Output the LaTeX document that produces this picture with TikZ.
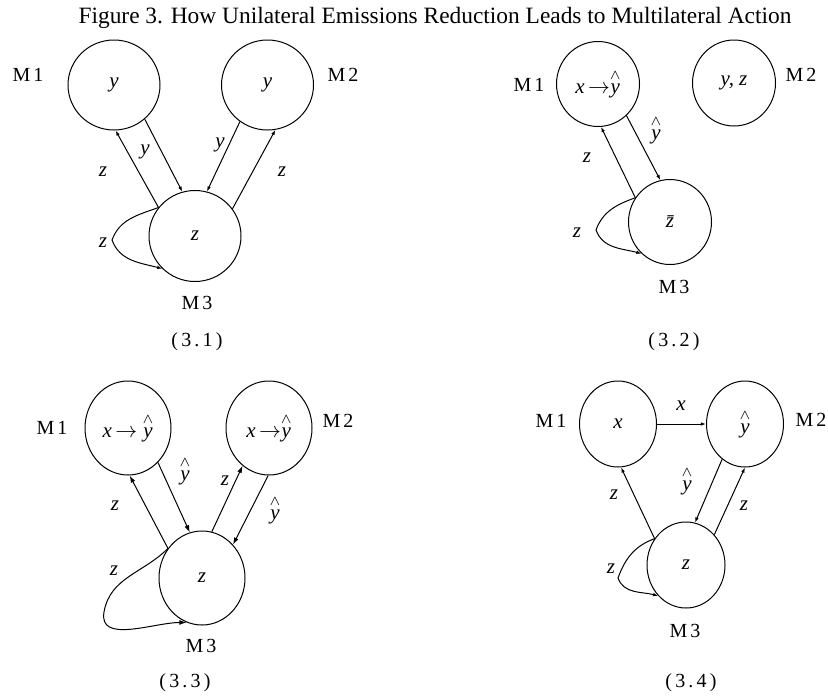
\documentclass[tikz,border=0pt]{standalone}
\usepackage{amsmath}
\usepackage{fontspec}
\setmainfont{Liberation Serif}
\newfontfamily\spaced[LetterSpace=16]{Liberation Serif}
\usetikzlibrary{arrows.meta,shapes.geometric}

\newcommand{\yhat}{$\overset{\scriptstyle\wedge}{\textit{y}}$}
\newcommand{\xto}{\textit{x}\,$\rightarrow$}

\begin{document}
\begin{tikzpicture}[
  x=0.5pt, y=0.5pt, line width=0.5pt,
  title/.style={font=\fontsize{11.7}{14}\selectfont, anchor=base},
  mnode/.style 2 args={ellipse, draw, minimum width=#1, minimum height=#2, inner sep=0pt,
    font=\fontsize{10.5}{12}\selectfont\itshape},
  mlab/.style={font=\fontsize{10}{12}\selectfont\spaced},
  elab/.style={font=\fontsize{10.5}{12}\selectfont\itshape, inner sep=0pt},
  capt/.style={font=\fontsize{10}{12}\selectfont\spaced},
  arr/.style={-{Latex[length=2.6pt,width=1.8pt]}},
  arrb/.style={-{Latex[length=3.6pt,width=2.4pt]}}
]
  \useasboundingbox (0,0) rectangle (828,-696);
  \node[title] (ttl) at (435,-23) {Figure 3. How Unilateral Emissions Reduction Leads to Multilateral Action};

  % (3.1)
  \node[mnode={46pt}{45pt}] (a1) at (114,-85) {y};
  \node[mnode={46pt}{45pt}] (a2) at (267.5,-85) {y};
  \node[mnode={46pt}{45.5pt}] (a3) at (195,-236) {z};
  \node[mlab] (a1l) at (28,-75) {M1};
  \node[mlab] (a2l) at (343,-75) {M2};
  \node[mlab] (a3l) at (197,-303) {M3};
  \node[capt] (a0) at (197,-342) {(3.1)};
  \draw[arr] (a3.142) -- (a1.272);
  \draw[arr] (a1.-48) -- (a3.106);
  \draw[arr] (a2.233) -- (a3.75);
  \draw[arr] (a3.36) -- (a2.280);
  \coordinate (a3t) at (112,-240);
  \draw[arr] (a3.142) to[out=200,in=70] (a3t) to[out=-70,in=165] (a3.225);
  \node[elab] (az1) at (103,-172) {z};
  \node[elab] (ay1) at (145,-152) {y};
  \node[elab] (ay2) at (220,-145) {y};
  \node[elab] (az2) at (282,-172) {z};
  \node[elab] (az3) at (103,-243) {z};

  % (3.2)
  \node[mnode={41.5pt}{42.5pt}] (b1) at (598,-84) {\xto\yhat};
  \node[mnode={41.5pt}{43pt}] (b2) at (734,-83) {y, z};
  \node[mnode={41.5pt}{42.5pt}] (b3) at (670,-222) {\=z};
  \node[mlab] (b1l) at (529,-85) {M1};
  \node[mlab] (b2l) at (801,-75) {M2};
  \node[mlab] (b3l) at (674,-287) {M3};
  \node[capt] (b0) at (674,-342) {(3.2)};
  \draw[arr] (b3.145) -- (b1.274);
  \draw[arr] (b1.-48) -- (b3.103);
  \coordinate (b3t) at (596,-230);
  \draw[arr] (b3.145) to[out=200,in=70] (b3t) to[out=-70,in=165] (b3.228);
  \node[elab] (bz1) at (587,-158) {z};
  \node[elab] (by1) at (656,-130) {\yhat};
  \node[elab] (bz2) at (577,-233) {z};

  % (3.3)
  \node[mnode={43pt}{47pt}] (c1) at (128,-428) {\xto\ \yhat};
  \node[mnode={43pt}{47pt}] (c2) at (269,-428) {\xto\yhat};
  \node[mnode={43pt}{47pt}] (c3) at (202,-578) {z};
  \node[mlab] (c1l) at (52,-428) {M1};
  \node[mlab] (c2l) at (338,-421) {M2};
  \node[mlab] (c3l) at (201,-646) {M3};
  \node[capt] (c0) at (185,-683) {(3.3)};
  \draw[arrb] (c3.139) -- (c1.272);
  \draw[arrb] (c1.-49) -- (c3.105);
  \draw[arrb] (c3.78) -- (c2.235);
  \draw[arrb] (c2.269) -- (c3.47);
  \coordinate (c3t) at (104,-612);
  \draw[arrb] (c3.139) to[out=225,in=80] (c3t) to[out=-100,in=180] (c3.251);
  \node[elab] (cz1) at (115,-506) {z};
  \node[elab] (cy1) at (185,-471) {\yhat};
  \node[elab] (cz2) at (225,-481) {z};
  \node[elab] (cy2) at (275,-510) {\yhat};
  \node[elab] (cz3) at (114,-571) {z};

  % (3.4)
  \node[mnode={38.5pt}{43pt}] (d1) at (618,-424) {x};
  \node[mnode={38.5pt}{43pt}] (d2) at (745,-424) {\yhat};
  \node[mnode={39pt}{43pt}] (d3) at (686,-565) {z};
  \node[mlab] (d1l) at (551,-421) {M1};
  \node[mlab] (d2l) at (811,-420) {M2};
  \node[mlab] (d3l) at (685,-631) {M3};
  \node[capt] (d0) at (691,-683) {(3.4)};
  \draw[arr] (d1) -- (d2);
  \draw[arr] (d3.140) -- (d1.274);
  \draw[arr] (d2.237) -- (d3.78);
  \draw[arr] (d3.47) -- (d2.270);
  \coordinate (d3t) at (618,-578);
  \draw[arr] (d3.140) to[out=200,in=70] (d3t) to[out=-70,in=165] (d3.228);
  \node[elab] (dx1) at (681,-406) {x};
  \node[elab] (dy1) at (687,-481) {\yhat};
  \node[elab] (dz1) at (614,-495) {z};
  \node[elab] (dz2) at (744,-506) {z};
  \node[elab] (dz3) at (611,-569) {z};
\end{tikzpicture}
\end{document}
